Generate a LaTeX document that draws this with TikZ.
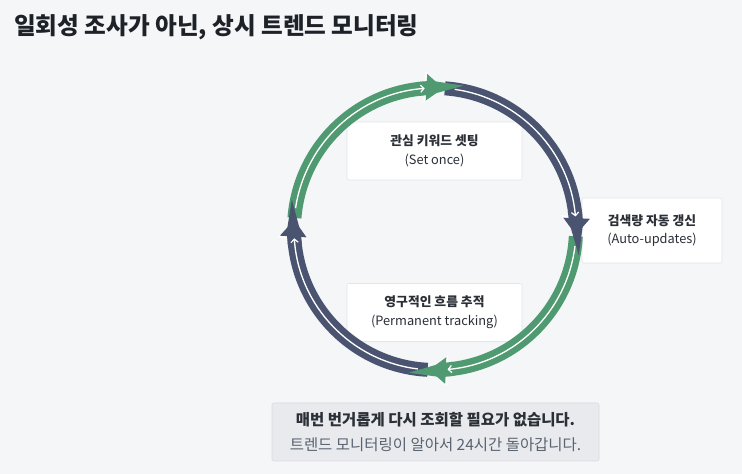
\documentclass[tikz,border=0pt]{standalone}
\usepackage{fontspec}
\setmainfont{Noto Sans CJK KR}
\usepackage{xcolor}
\usetikzlibrary{arrows.meta, positioning, calc}

\definecolor{bgcol}{HTML}{F4F6F8}
\definecolor{ringgreen}{HTML}{4F9A70}
\definecolor{ringdark}{HTML}{4A5470}
\definecolor{boxline}{HTML}{E2E5E9}
\definecolor{notefill}{HTML}{E8EAED}
\definecolor{noteline}{HTML}{D8DBE0}
\definecolor{titlecol}{HTML}{1E2228}
\definecolor{textcol}{HTML}{2B2F36}
\definecolor{subcol}{HTML}{5B6370}

\begin{document}
\begin{tikzpicture}[
    x=0.75pt, y=0.75pt,
    stepbox/.style={rectangle, draw=boxline, fill=white, rounded corners=1.5pt, minimum width=131.25pt, minimum height=43.5pt, align=center, text=textcol, font=\fontsize{9.6}{14}\selectfont},
    note/.style={rectangle, draw=noteline, fill=notefill, rounded corners=1.5pt, minimum width=245.25pt, minimum height=43.5pt, align=center, text=textcol, font=\fontsize{11.6}{18.75}\selectfont},
    ring/.style={line width=10.5pt},
    flowline/.style={draw=white, line width=1pt, -{Straight Barb[length=2.5pt, width=5.5pt, line width=0.9pt]}}
]

% canvas
\useasboundingbox[fill=bgcol] (0,0) rectangle (742,474);

% title
\node[anchor=west, inner sep=0pt, text=titlecol, font=\fontsize{17.7}{20}\selectfont\bfseries] (title) at (14,446.5) {일회성 조사가 아닌, 상시 트렌드 모니터링};

% step boxes
\node[stepbox] (set) at (434.5,323) {{\bfseries 관심 키워드 셋팅}\\(Set once)};
\node[stepbox, minimum width=105pt, minimum height=48.75pt] (auto) at (652,243.5) {{\bfseries 검색량 자동 갱신}\\(Auto-updates)};
\node[stepbox] (track) at (434.5,161.5) {{\bfseries 영구적인 흐름 추적}\\(Permanent tracking)};

% cycle ring
\coordinate (c) at (435,245);
\foreach \s/\e/\col in {175.5/86.7/ringgreen, 86/-2.4/ringdark, -3/-92.4/ringgreen, -93/-183.7/ringdark} {
    \draw[ring, \col] ($(c)+(\s:141)$) arc[start angle=\s, end angle=\e+4, radius=141];
}
% arrow heads on top
\foreach \e/\col in {86.7/ringgreen, -2.4/ringdark, -92.4/ringgreen, -183.7/ringdark} {
    \draw[ring, white, -{Triangle[width=23pt, length=14pt, line width=0pt]}] ($(c)+(\e+9:141)$) arc[start angle=\e+9, end angle=\e, radius=141];
    \draw[ring, \col, -{Triangle[width=20pt, length=12.5pt, line width=0pt]}] ($(c)+(\e+10:141)$) arc[start angle=\e+10, end angle=\e, radius=141];
}
% thin flow lines
\foreach \s/\e in {175.5/86.7, 86/-2.4, -3/-92.4, -93/-183.7} {
    \draw[flowline] ($(c)+(\s-4:141)$) arc[start angle=\s-4, end angle=\e+7.5, radius=141];
}

% bottom note
\node[note] (msg) at (435.5,42) {{\bfseries 매번 번거롭게 다시 조회할 필요가 없습니다.}\\{\color{subcol}트렌드 모니터링이 알아서 24시간 돌아갑니다.}};

\end{tikzpicture}
\end{document}
